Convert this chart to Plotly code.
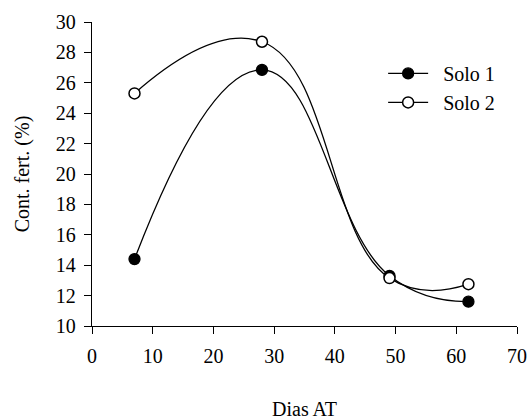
import plotly.graph_objects as go

dias = [7, 28, 49, 62]
solo1 = [14.4, 26.85, 13.3, 11.6]
solo2 = [25.3, 28.7, 13.15, 12.75]
x_ticks = [0, 10, 20, 30, 40, 50, 60, 70]
y_ticks = [10, 12, 14, 16, 18, 20, 22, 24, 26, 28, 30]

FONT = "Liberation Serif, Times New Roman, serif"
PAD = "\u00a0\u00a0"

fig = go.Figure()
fig.add_trace(go.Scatter(
    x=dias, y=solo1, name=PAD + "Solo 1", mode="lines+markers",
    line=dict(color="black", width=1.3, shape="spline", smoothing=1.3),
    marker=dict(symbol="circle", size=11, color="black", line=dict(color="black", width=1.3)),
))
fig.add_trace(go.Scatter(
    x=dias, y=solo2, name=PAD + "Solo 2", mode="lines+markers",
    line=dict(color="black", width=1.3, shape="spline", smoothing=1.3),
    marker=dict(symbol="circle", size=11, color="white", line=dict(color="black", width=1.5)),
))

fig.update_layout(
    width=530, height=420,
    margin=dict(l=92, r=13, t=22, b=94),
    paper_bgcolor="white", plot_bgcolor="white",
    font=dict(family=FONT, size=20, color="black"),
    showlegend=True,
    legend=dict(x=0.685, y=0.895, xanchor="left", yanchor="top",
                bgcolor="rgba(0,0,0,0)", font=dict(size=20, family=FONT),
                itemwidth=40, tracegroupgap=0),
    xaxis=dict(range=[0, 70], tickvals=x_ticks, showline=True, linecolor="black",
               linewidth=1.3, ticks="outside", ticklen=7, tickwidth=1.3, tickcolor="black",
               showgrid=False, zeroline=False, automargin=False, ticklabelstandoff=5,
               title=dict(text="Dias AT", standoff=40, font=dict(size=20))),
    yaxis=dict(range=[10, 30], tickvals=y_ticks, showline=True, linecolor="black",
               linewidth=1.3, ticks="outside", ticklen=7, tickwidth=1.3, tickcolor="black",
               showgrid=False, zeroline=False, automargin=False, ticklabelstandoff=4,
               title=dict(text="Cont. fert. (%)", standoff=20, font=dict(size=20))),
)

fig.write_html("out.html")
